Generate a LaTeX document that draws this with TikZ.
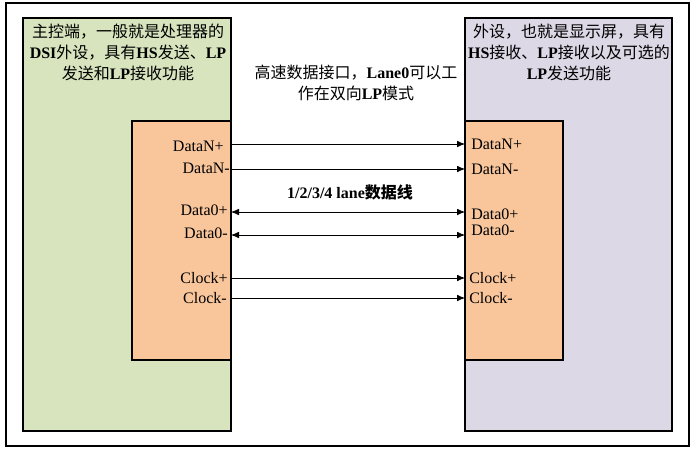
\documentclass[tikz,border=0pt]{standalone}
\usepackage{fontspec}
\setmainfont{Liberation Serif}
\newfontfamily\cjk{Noto Sans CJK SC}
\usetikzlibrary{arrows.meta}
\definecolor{hostgreen}{RGB}{215,228,189}
\definecolor{devpurple}{RGB}{221,216,230}
\definecolor{portorange}{RGB}{249,198,156}
\newcommand{\zh}[1]{{\cjk #1}}

\begin{document}
\begin{tikzpicture}[x=0.75pt,y=-0.75pt,
    font=\fontsize{12}{15.75}\selectfont,
    box/.style={draw,line width=0.8pt,inner sep=0pt},
    note/.style={align=center,inner sep=0pt,anchor=north},
    pinlbl/.style={inner sep=0pt},
    pin/.style={line width=0.6pt,-{Latex[length=6pt,width=5pt]}},
    bipin/.style={line width=0.6pt,{Latex[length=6pt,width=5pt]}-{Latex[length=6pt,width=5pt]}}]
    \useasboundingbox (0,0) rectangle (695,450);

    \node[box,minimum width=512.25pt,minimum height=332.25pt] (frame) at (347.5,224.5) {};
    \node[box,fill=hostgreen,minimum width=156pt,minimum height=309.75pt] (host) at (127,224.5) {};
    \node[box,fill=devpurple,minimum width=155.25pt,minimum height=309.75pt] (dev) at (568.5,224.5) {};
    \node[box,fill=portorange,minimum width=74.25pt,minimum height=179.25pt] (hostport) at (181.5,240.5) {};
    \node[box,fill=portorange,minimum width=73.5pt,minimum height=179.25pt] (devport) at (514,240.5) {};

    \node[note] (hosttxt) at (128,24) {\zh{主控端，一般就是处理器的}\\
        \textbf{DSI}\zh{外设，具有}\textbf{HS}\zh{发送、}\textbf{LP}\\
        \zh{发送和}\textbf{LP}\zh{接收功能}};
    \node[note] (devtxt) at (569,24) {\zh{外设，也就是显示屏，具有}\\
        \textbf{HS}\zh{接收、}\textbf{LP}\zh{接收以及可选的}\\
        \textbf{LP}\zh{发送功能}};
    \node[note] (linktxt) at (356,65) {\zh{高速数据接口，}\textbf{Lane0}\zh{可以工}\\
        \zh{作在双向}\textbf{LP}\zh{模式}};
    \node[pinlbl] (lanetxt) at (350,192) {\bfseries 1/2/3/4 lane\zh{数据线}};

    \coordinate (hdnp) at (231,144); \coordinate (ddnp) at (465,144);
    \coordinate (hdnm) at (231,169); \coordinate (ddnm) at (465,169);
    \coordinate (hd0p) at (231,212); \coordinate (dd0p) at (465,212);
    \coordinate (hd0m) at (231,235); \coordinate (dd0m) at (465,235);
    \coordinate (hckp) at (231,278); \coordinate (dckp) at (465,278);
    \coordinate (hckm) at (231,298); \coordinate (dckm) at (465,298);

    \draw[pin] (hdnp) -- (ddnp);
    \draw[pin] (hdnm) -- (ddnm);
    \draw[bipin] (hd0p) -- (dd0p);
    \draw[bipin] (hd0m) -- (dd0m);
    \draw[pin] (hckp) -- (dckp);
    \draw[pin] (hckm) -- (dckm);

    \node[pinlbl,anchor=east] (hlbl1) at (224,146) {DataN+};
    \node[pinlbl,anchor=east] (hlbl2) at (230,168) {DataN-};
    \node[pinlbl,anchor=east] (hlbl3) at (228,210) {Data0+};
    \node[pinlbl,anchor=east] (hlbl4) at (228,233) {Data0-};
    \node[pinlbl,anchor=east] (hlbl5) at (228,278) {Clock+};
    \node[pinlbl,anchor=east] (hlbl6) at (227,298) {Clock-};

    \node[pinlbl,anchor=west] (dlbl1) at (471,144) {DataN+};
    \node[pinlbl,anchor=west] (dlbl2) at (471,169) {DataN-};
    \node[pinlbl,anchor=west] (dlbl3) at (471,214) {Data0+};
    \node[pinlbl,anchor=west] (dlbl4) at (471,230) {Data0-};
    \node[pinlbl,anchor=west] (dlbl5) at (469,278) {Clock+};
    \node[pinlbl,anchor=west] (dlbl6) at (469,298) {Clock-};
\end{tikzpicture}
\end{document}
